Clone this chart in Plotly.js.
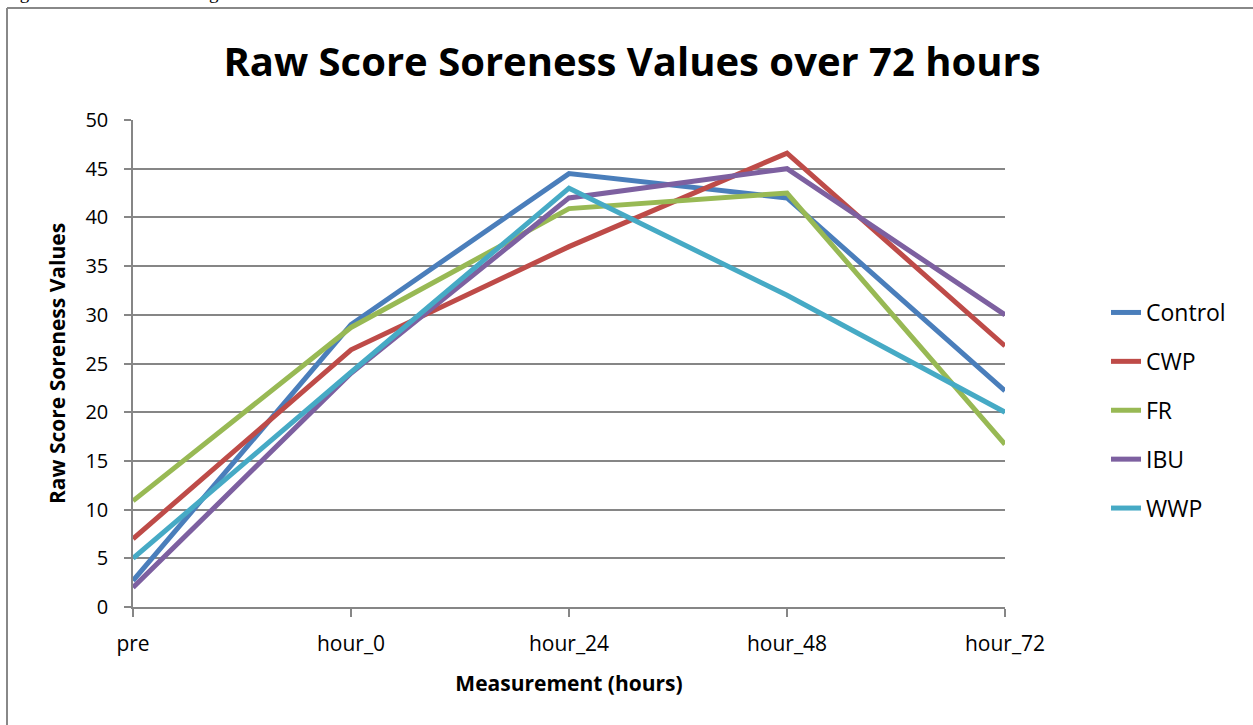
<!DOCTYPE html>
<html>
<head>
<meta charset="utf-8">
<script src="https://cdn.plot.ly/plotly-3.0.1.min.js"></script>
<style>html,body{margin:0;padding:0;background:#fff;}#chart{width:1253px;height:725px;}</style>
</head>
<body>
<div id="chart"></div>
<script>
const categories = ["pre", "hour_0", "hour_24", "hour_48", "hour_72"];
const seriesNames = ["Control", "CWP", "FR", "IBU", "WWP"];
const control = [2.7, 29.0, 44.5, 42.0, 22.2];
const cwp     = [7.0, 26.4, 37.0, 46.6, 26.8];
const fr      = [10.9, 28.7, 40.9, 42.5, 16.7];
const ibu     = [2.0, 24.0, 42.0, 45.0, 30.0];
const wwp     = [5.0, 24.1, 43.0, 32.0, 20.0];
const yTicks = [0, 5, 10, 15, 20, 25, 30, 35, 40, 45, 50];

const seriesValues = [control, cwp, fr, ibu, wwp];
const colors = ["#4A7EBB", "#BE4B48", "#98B954", "#7D60A0", "#46AAC5"];

const W = 1253, H = 725;
const L = 133, R = 248, T = 120, B = 118;
const pw = W - L - R, ph = H - T - B;
const px = x => (x - L) / pw;
const py = y => (H - B - y) / ph;

const font = "Open Sans, Liberation Sans, sans-serif";

const traces = seriesValues.map((vals, i) => ({
  x: categories,
  y: vals,
  type: "scatter",
  mode: "lines",
  name: seriesNames[i],
  legendgroup: seriesNames[i],
  line: {color: colors[i], width: 5},
  hoverinfo: "x+y+name"
}));

const layout = {
  width: W, height: H,
  margin: {l: L, r: R, t: T, b: B, pad: 0},
  paper_bgcolor: "#ffffff",
  plot_bgcolor: "#ffffff",
  font: {family: font, color: "#000000", size: 20},
  title: {
    text: "<b>Raw Score Soreness Values over 72 hours</b>",
    font: {family: font, size: 40, color: "#000000"},
    x: 632 / W, xanchor: "center", xref: "container",
    y: 1 - 62 / H, yanchor: "middle", yref: "container"
  },
  xaxis: {
    type: "category",
    range: [0, 4],
    showgrid: false,
    showline: true, linecolor: "#868686", linewidth: 1.5,
    ticks: "outside", ticklen: 8, tickcolor: "#868686", tickwidth: 1.5,
    ticklabelstandoff: 9,
    tickfont: {family: font, size: 21},
    title: {text: "<b>Measurement (hours)</b>", font: {family: font, size: 21}, standoff: 20},
    zeroline: false, fixedrange: true
  },
  yaxis: {
    range: [0, 50],
    tickvals: yTicks,
    ticktext: yTicks.map(String),
    showgrid: true, gridcolor: "#868686", gridwidth: 1.5,
    showline: true, linecolor: "#868686", linewidth: 1.5,
    ticks: "outside", ticklen: 7, tickcolor: "#868686", tickwidth: 1.5,
    ticklabelstandoff: 12,
    tickfont: {family: font, size: 20},
    title: {text: "<b>Raw Score Soreness Values</b>", font: {family: font, size: 21}, standoff: 14},
    zeroline: false, fixedrange: true
  },
  showlegend: true,
  legend: {
    x: px(1106), xanchor: "left",
    y: py(291), yanchor: "top",
    font: {family: font, size: 23, color: "#000000"},
    tracegroupgap: 16,
    bgcolor: "rgba(0,0,0,0)",
    itemclick: false, itemdoubleclick: false
  },
  shapes: [
    {type: "line", xref: "paper", yref: "paper", x0: px(7), x1: px(1253), y0: py(8), y1: py(8),
     line: {color: "#888888", width: 2}},
    {type: "line", xref: "paper", yref: "paper", x0: px(7), x1: px(7), y0: py(8), y1: py(730),
     line: {color: "#888888", width: 2}}
  ],
  annotations: [
    {text: "Figure 3. Raw Score Average Values Over 72 Hours", xref: "paper", yref: "paper",
     x: px(2), xanchor: "left", y: py(5), yanchor: "bottom", showarrow: false,
     font: {family: "Liberation Serif, Times New Roman, serif", size: 19, color: "#000"}}
  ]
};

Plotly.newPlot("chart", traces, layout, {displayModeBar: false, staticPlot: false});
</script>
</body>
</html>
